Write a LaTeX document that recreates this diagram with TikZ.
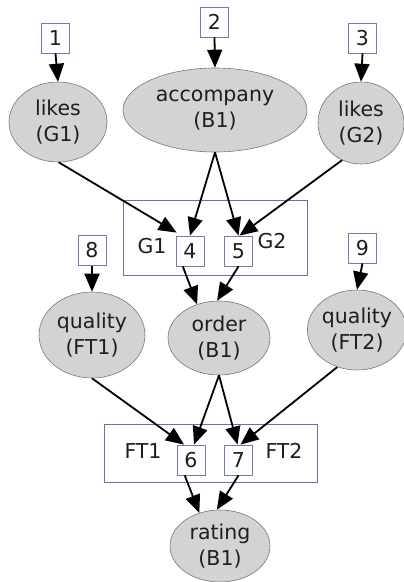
\documentclass[tikz,border=0pt]{standalone}
\usepackage{fontspec}
\setmainfont{DejaVu Sans}
\usetikzlibrary{arrows.meta,shapes.geometric}
\definecolor{ellfill}{RGB}{211,211,211}
\definecolor{ellline}{RGB}{120,120,120}
\definecolor{boxline}{RGB}{110,125,175}
\definecolor{clusline}{RGB}{100,115,165}
\definecolor{txt}{RGB}{30,30,30}
\begin{document}
\begin{tikzpicture}[x=1pt,y=-1pt,
  ell/.style={ellipse,draw=ellline,line width=0.6pt,fill=ellfill,inner sep=0pt,align=center,
    text=txt,font=\fontsize{20.5}{26}\selectfont},
  numbox/.style={rectangle,draw=boxline,line width=0.8pt,fill=white,inner sep=0pt,
    text=txt,minimum width=28pt,minimum height=30pt,font=\fontsize{20.5}{24}\selectfont},
  lbl/.style={inner sep=0pt,text=txt,font=\fontsize{20.5}{24}\selectfont},
  cluster/.style={draw=clusline,line width=0.7pt},
  edge/.style={line width=1.8pt,-{Triangle[length=18pt,width=15pt]}}]
\useasboundingbox (0,0) rectangle (404,582);
% clusters
\draw[cluster] (123,200) rectangle (307,275);
\draw[cluster] (104,424) rectangle (317,482);
% cluster labels
\node[lbl] (lG1) at (152,246) {G1};
\node[lbl] (lG2) at (272,241) {G2};
\node[lbl] (lFT1) at (143,451) {FT1};
\node[lbl] (lFT2) at (284,451) {FT2};
% ellipses
\node[ell,minimum width=98pt,minimum height=80pt] (lg1) at (58,122) {likes\\(G1)};
\node[ell,minimum width=184pt,minimum height=84pt] (acc) at (215,110) {accompany\\(B1)};
\node[ell,minimum width=86pt,minimum height=82pt] (lg2) at (361,123) {likes\\(G2)};
\node[ell,minimum width=106pt,minimum height=86pt] (fq1) at (92,335) {quality\\(FT1)};
\node[ell,minimum width=102pt,minimum height=74pt] (ord) at (219,338) {order\\(B1)};
\node[ell,minimum width=94pt,minimum height=80pt] (fq2) at (357,330) {quality\\(FT2)};
\node[ell,minimum width=100pt,minimum height=72pt] (rat) at (220,546) {rating\\(B1)};
% number boxes
\node[numbox] (n1) at (55.5,38) {1};
\node[numbox] (n2) at (214.5,22) {2};
\node[numbox] (n3) at (362.5,38) {3};
\node[numbox] (n4) at (190,251) {4};
\node[numbox] (n5) at (238.5,251) {5};
\node[numbox] (n8) at (92,250.5) {8};
\node[numbox] (n9) at (362.5,248) {9};
\node[numbox] (n6) at (191,460) {6};
\node[numbox] (n7) at (238.5,460) {7};
% edges
\draw[edge] (n1.south) -- (lg1.north);
\draw[edge] (n2.south) -- (acc.north);
\draw[edge] (n3.south) -- (lg2.north);
\draw[edge] (n8.south) -- (fq1.north);
\draw[edge] (n9.south) -- (fq2.north);
\draw[edge] (lg1.-89) -- ([xshift=1pt,yshift=3pt]n4.north west);
\draw[edge] (acc.south) -- (n4.north);
\draw[edge] (acc.south) -- (n5.north);
\draw[edge] (lg2.-117) -- ([xshift=1pt]n5.north);
\draw[edge] (n4.-115) -- (ord.123);
\draw[edge] (n5.south) -- (ord.93);
\draw[edge] (fq1.south) -- ([xshift=-7pt]n6.north);
\draw[edge] (ord.south) -- ([xshift=3pt]n6.north);
\draw[edge] (ord.south) -- ([xshift=-1pt]n7.north);
\draw[edge] (fq2.-118) -- ([xshift=2pt]n7.north);
\draw[edge] (n6.-112) -- (rat.122);
\draw[edge] (n7.south) -- (rat.95);
\end{tikzpicture}
\end{document}
